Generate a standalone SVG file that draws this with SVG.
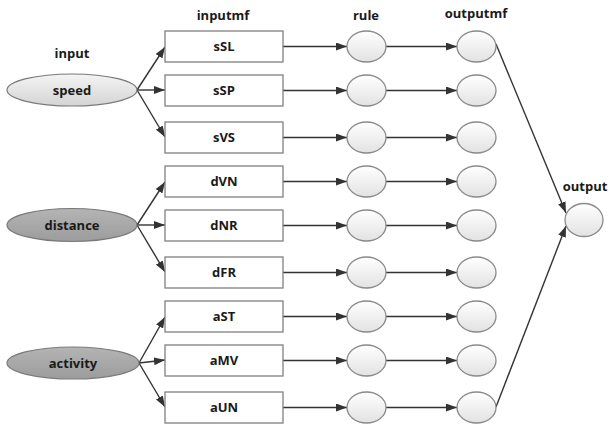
<svg xmlns="http://www.w3.org/2000/svg" width="609" height="431" viewBox="0 0 609 431">
  <defs>
    <linearGradient id="gLight" x1="0" y1="0" x2="0" y2="1">
      <stop offset="0" stop-color="#f4f4f4"/>
      <stop offset="1" stop-color="#d4d4d4"/>
    </linearGradient>
    <linearGradient id="gDark" x1="0" y1="0" x2="0" y2="1">
      <stop offset="0" stop-color="#b4b4b4"/>
      <stop offset="1" stop-color="#9c9c9c"/>
    </linearGradient>
    <linearGradient id="gCircle" x1="0" y1="0" x2="0" y2="1">
      <stop offset="0" stop-color="#ffffff"/>
      <stop offset="1" stop-color="#e2e2e2"/>
    </linearGradient>
    <marker id="arrow" viewBox="0 0 11 8" refX="11" refY="4" markerWidth="11" markerHeight="8" markerUnits="userSpaceOnUse" orient="auto">
      <path d="M0,0 L11,4 L0,8 z" fill="#333"/>
    </marker>
  </defs>
  <style>
    text { font-family: "Open Sans", "DejaVu Sans", sans-serif; font-weight: bold; font-size: 13px; fill: #1a1a1a; text-anchor: middle; }
    .box { fill: #ffffff; stroke: #808080; stroke-width: 1.3; }
    .inp { stroke: #7a7a7a; stroke-width: 1.2; }
    .circ { fill: url(#gCircle); stroke: #8a8a8a; stroke-width: 1.3; }
    .edge { stroke: #333; stroke-width: 1.4; fill: none; }
    .arr { marker-end: url(#arrow); }
  </style>

  <rect width="609" height="431" fill="#ffffff"/>

  <!-- column headings -->
  <g id="labels">
    <text x="72" y="58">input</text>
    <text x="223" y="20">inputmf</text>
    <text x="366" y="20">rule</text>
    <text x="476" y="18">outputmf</text>
    <text x="585" y="191">output</text>
  </g>

  <!-- connectors -->
  <g id="connectors">
    <!-- input variables to membership functions -->
    <line class="edge arr" x1="137" y1="90" x2="165" y2="47"/>
    <line class="edge arr" x1="137" y1="90" x2="165" y2="90"/>
    <line class="edge arr" x1="137" y1="90" x2="165" y2="137"/>
    <line class="edge arr" x1="137" y1="225" x2="165" y2="182"/>
    <line class="edge arr" x1="137" y1="225" x2="165" y2="225"/>
    <line class="edge arr" x1="137" y1="225" x2="165" y2="272"/>
    <line class="edge arr" x1="139" y1="363" x2="165" y2="317"/>
    <line class="edge arr" x1="139" y1="363" x2="165" y2="360"/>
    <line class="edge arr" x1="139" y1="363" x2="165" y2="407"/>
    <!-- membership functions to rules -->
    <line class="edge arr" x1="283" y1="46.5" x2="347" y2="46.5"/>
    <line class="edge arr" x1="283" y1="90.5" x2="347" y2="90.5"/>
    <line class="edge arr" x1="283" y1="137.5" x2="347" y2="137.5"/>
    <line class="edge arr" x1="283" y1="181.5" x2="347" y2="181.5"/>
    <line class="edge arr" x1="283" y1="225.5" x2="347" y2="225.5"/>
    <line class="edge arr" x1="283" y1="272.5" x2="347" y2="272.5"/>
    <line class="edge arr" x1="283" y1="316.5" x2="347" y2="316.5"/>
    <line class="edge arr" x1="283" y1="360.5" x2="347" y2="360.5"/>
    <line class="edge arr" x1="283" y1="407.5" x2="347" y2="407.5"/>
    <!-- rules to output membership functions -->
    <line class="edge arr" x1="386" y1="46.5" x2="457" y2="46.5"/>
    <line class="edge arr" x1="386" y1="90.5" x2="457" y2="90.5"/>
    <line class="edge arr" x1="386" y1="137.5" x2="457" y2="137.5"/>
    <line class="edge arr" x1="386" y1="181.5" x2="457" y2="181.5"/>
    <line class="edge arr" x1="386" y1="225.5" x2="457" y2="225.5"/>
    <line class="edge arr" x1="386" y1="272.5" x2="457" y2="272.5"/>
    <line class="edge arr" x1="386" y1="316.5" x2="457" y2="316.5"/>
    <line class="edge arr" x1="386" y1="360.5" x2="457" y2="360.5"/>
    <line class="edge arr" x1="386" y1="407.5" x2="457" y2="407.5"/>
    <!-- aggregation into output -->
    <line class="edge arr" x1="496" y1="44" x2="566" y2="213"/>
    <line class="edge arr" x1="496" y1="407" x2="566" y2="226"/>
  </g>

  <!-- input variables -->
  <g id="speed">
    <ellipse class="inp" cx="72" cy="90" rx="65" ry="16" fill="url(#gLight)"/>
    <text x="72" y="94.5">speed</text>
  </g>
  <g id="distance">
    <ellipse class="inp" cx="72" cy="225" rx="65" ry="16.5" fill="url(#gDark)"/>
    <text x="72" y="229.5">distance</text>
  </g>
  <g id="activity">
    <ellipse class="inp" cx="73" cy="363" rx="66" ry="16" fill="url(#gDark)"/>
    <text x="73" y="367.5">activity</text>
  </g>

  <!-- input membership functions -->
  <g id="sSL"><rect class="box" x="165" y="31" width="118" height="31"/><text x="224" y="51">sSL</text></g>
  <g id="sSP"><rect class="box" x="165" y="75" width="118" height="31"/><text x="224" y="95">sSP</text></g>
  <g id="sVS"><rect class="box" x="165" y="122" width="118" height="31"/><text x="224" y="142">sVS</text></g>
  <g id="dVN"><rect class="box" x="165" y="166" width="118" height="31"/><text x="224" y="186">dVN</text></g>
  <g id="dNR"><rect class="box" x="165" y="210" width="118" height="31"/><text x="224" y="230">dNR</text></g>
  <g id="dFR"><rect class="box" x="165" y="257" width="118" height="31"/><text x="224" y="277">dFR</text></g>
  <g id="aST"><rect class="box" x="165" y="301" width="118" height="31"/><text x="224" y="321">aST</text></g>
  <g id="aMV"><rect class="box" x="165" y="345" width="118" height="31"/><text x="224" y="365">aMV</text></g>
  <g id="aUN"><rect class="box" x="165" y="392" width="118" height="31"/><text x="224" y="412">aUN</text></g>

  <!-- rule nodes -->
  <g id="rule1"><ellipse class="circ" cx="366.5" cy="46.5" rx="19.5" ry="15.5"/></g>
  <g id="rule2"><ellipse class="circ" cx="366.5" cy="90.5" rx="19.5" ry="15.5"/></g>
  <g id="rule3"><ellipse class="circ" cx="366.5" cy="137.5" rx="19.5" ry="15.5"/></g>
  <g id="rule4"><ellipse class="circ" cx="366.5" cy="181.5" rx="19.5" ry="15.5"/></g>
  <g id="rule5"><ellipse class="circ" cx="366.5" cy="225.5" rx="19.5" ry="15.5"/></g>
  <g id="rule6"><ellipse class="circ" cx="366.5" cy="272.5" rx="19.5" ry="15.5"/></g>
  <g id="rule7"><ellipse class="circ" cx="366.5" cy="316.5" rx="19.5" ry="15.5"/></g>
  <g id="rule8"><ellipse class="circ" cx="366.5" cy="360.5" rx="19.5" ry="15.5"/></g>
  <g id="rule9"><ellipse class="circ" cx="366.5" cy="407.5" rx="19.5" ry="15.5"/></g>

  <!-- output membership functions -->
  <g id="outmf1"><ellipse class="circ" cx="476.5" cy="46.5" rx="19.5" ry="15.5"/></g>
  <g id="outmf2"><ellipse class="circ" cx="476.5" cy="90.5" rx="19.5" ry="15.5"/></g>
  <g id="outmf3"><ellipse class="circ" cx="476.5" cy="137.5" rx="19.5" ry="15.5"/></g>
  <g id="outmf4"><ellipse class="circ" cx="476.5" cy="181.5" rx="19.5" ry="15.5"/></g>
  <g id="outmf5"><ellipse class="circ" cx="476.5" cy="225.5" rx="19.5" ry="15.5"/></g>
  <g id="outmf6"><ellipse class="circ" cx="476.5" cy="272.5" rx="19.5" ry="15.5"/></g>
  <g id="outmf7"><ellipse class="circ" cx="476.5" cy="316.5" rx="19.5" ry="15.5"/></g>
  <g id="outmf8"><ellipse class="circ" cx="476.5" cy="360.5" rx="19.5" ry="15.5"/></g>
  <g id="outmf9"><ellipse class="circ" cx="476.5" cy="407.5" rx="19.5" ry="15.5"/></g>

  <!-- crisp output -->
  <g id="output"><ellipse class="circ" cx="584" cy="220" rx="19" ry="16.5"/></g>
</svg>
